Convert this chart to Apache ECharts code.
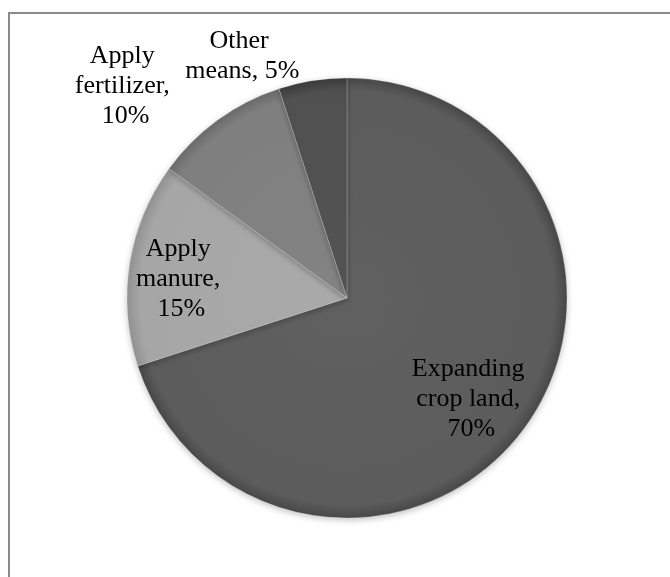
<!DOCTYPE html>
<html>
<head>
<meta charset="utf-8">
<script src="https://cdn.jsdelivr.net/npm/echarts@6/dist/echarts.min.js"></script>
<style>
    html, body { margin: 0; padding: 0; background: #fff; }
    #frame {
        position: absolute; left: 8px; top: 12px; width: 662px; height: 565px;
        border-left: 2px solid #8a8a8a; border-top: 2px solid #8a8a8a;
    }
    #pie { position: absolute; left: 0; top: 0; width: 670px; height: 577px; }
</style>
</head>
<body>
<div id="frame"></div>
<div id="pie"></div>
<script>
// data
var categories = ['Expanding crop land', 'Apply manure', 'Apply fertilizer', 'Other means'];
var shares = [70, 15, 10, 5];

var sliceColors = ['#5c5c5c', '#a6a6a6', '#7f7f7f', '#505050'];
// nudge of each label away from its default inside spot
var labelNudge = [[33, 35], [-54, -1], [-155, -120], [-87, -130]];

var pieCenter = [347, 298], pieRadius = 220;

function shade(hex, amt) {
    var n = parseInt(hex.slice(1), 16);
    var r = Math.max(0, Math.min(255, (n >> 16) + amt));
    var g = Math.max(0, Math.min(255, ((n >> 8) & 255) + amt));
    var b = Math.max(0, Math.min(255, (n & 255) + amt));
    return 'rgb(' + r + ',' + g + ',' + b + ')';
}

var myChart = echarts.init(document.getElementById('pie'));

var seriesData = categories.map(function(name, idx) {
    var base = sliceColors[idx];
    return {
        name: name,
        value: shares[idx],
        itemStyle: {
            // one gradient in page space so all slices share the bevelled rim
            color: {
                type: 'radial', global: true,
                x: pieCenter[0], y: pieCenter[1], r: pieRadius,
                colorStops: [
                    { offset: 0, color: shade(base, 4) },
                    { offset: 0.94, color: base },
                    { offset: 1, color: shade(base, -20) }
                ]
            }
        }
    };
});

var option = {
    backgroundColor: 'transparent',
    animation: false,
    series: [{
        type: 'pie',
        center: pieCenter,
        radius: pieRadius,
        startAngle: 90,
        clockwise: true,
        data: seriesData,
        itemStyle: {
            borderColor: 'rgba(255,255,255,0.22)',
            borderWidth: 1,
            shadowBlur: 6,
            shadowColor: 'rgba(0,0,0,0.25)',
            shadowOffsetY: 2
        },
        label: {
            show: true,
            position: 'inside',
            formatter: '{b}, {d}%',
            width: 122,
            overflow: 'break',
            fontFamily: '"Liberation Serif", "Times New Roman", serif',
            fontSize: 26,
            lineHeight: 30,
            color: '#000',
            align: 'center'
        },
        labelLine: { show: false },
        labelLayout: function(params) {
            var nudge = labelNudge[params.dataIndex];
            return { dx: nudge[0], dy: nudge[1] };
        },
        emphasis: { disabled: true }
    }]
};

myChart.setOption(option);
</script>
</body>
</html>
